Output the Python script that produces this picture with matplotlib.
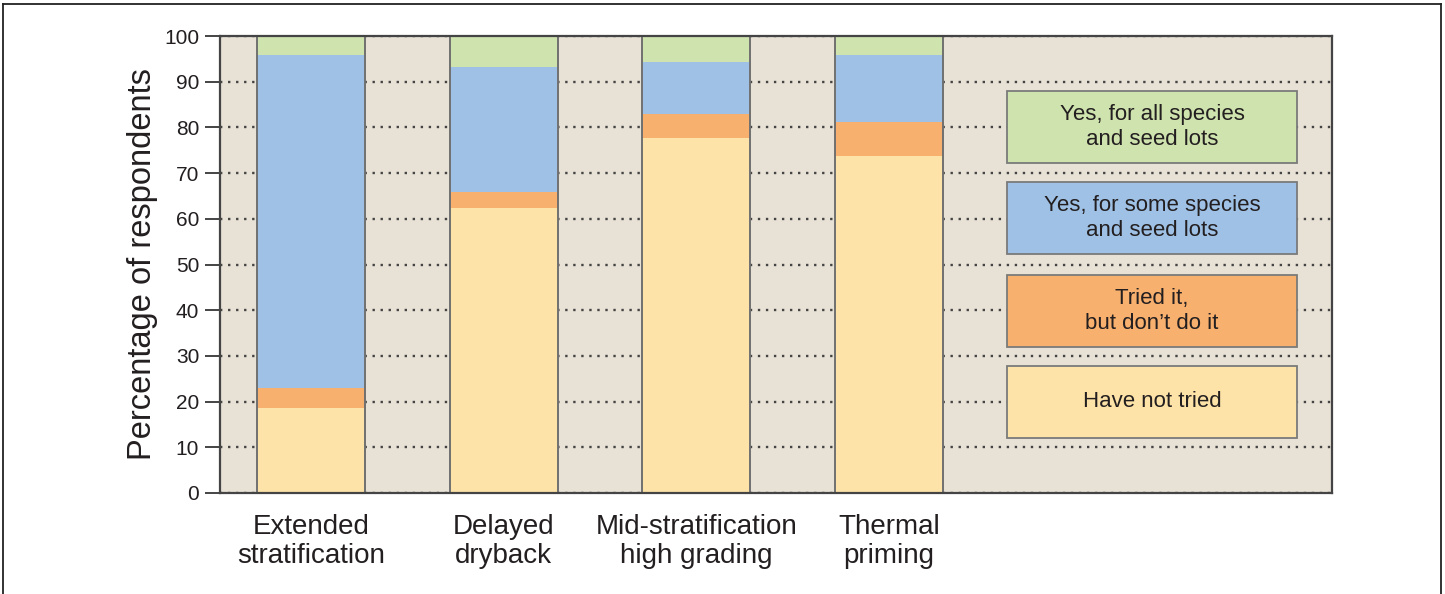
import matplotlib
matplotlib.use("Agg")
import matplotlib.pyplot as plt
from matplotlib.patches import Rectangle
from matplotlib.lines import Line2D
import numpy as np

plt.rcParams['font.family'] = ['Liberation Sans', 'DejaVu Sans']

# Data (percent of respondents)
practices = ["Extended\nstratification", "Delayed\ndryback",
             "Mid-stratification\nhigh grading", "Thermal\npriming"]
have_not_tried = [18.6, 62.4, 77.6, 73.7]
tried_not_do = [4.4, 3.5, 5.3, 7.4]
yes_some = [72.8, 27.4, 11.4, 14.7]
yes_all = [4.2, 6.7, 5.7, 4.2]

series_labels = ["Have not tried", "Tried it,\nbut don\u2019t do it",
                 "Yes, for some species\nand seed lots",
                 "Yes, for all species\nand seed lots"]
series_colors = ["#FDE3A7", "#F8B06E", "#9FC1E5", "#CFE3AE"]

fig = plt.figure(figsize=(14.45, 5.94), dpi=100)
ax = fig.add_axes([220 / 1445, 1 - 493 / 594, (1332 - 220) / 1445, (493 - 36) / 594])
ax.set_facecolor("#E8E1D5")

x = np.arange(len(practices))
width = 0.56

# Dotted grid behind bars
ax.set_yticks(np.arange(0, 101, 10))
ax.yaxis.grid(True, linestyle=(0, (1, 2.4)), color="#444444", linewidth=1.7)
ax.set_axisbelow(True)

series = [have_not_tried, tried_not_do, yes_some, yes_all]
bottom = np.zeros(len(practices))
for vals, col in zip(series, series_colors):
    ax.bar(x, vals, width, bottom=bottom, color=col, edgecolor="none", zorder=2)
    bottom += np.array(vals)

# grey side edges on each bar
for xi in x:
    for edge in (xi - width / 2, xi + width / 2):
        ax.plot([edge, edge], [0, 100], color="#707070", linewidth=1.4, zorder=3)

# legend boxes drawn inside the plot
box_x0, box_x1 = 3.614, 5.117
box_bottoms = [12.1, 32.0, 52.3, 72.2]
box_h = 15.7
for lab, col, yb in zip(series_labels, series_colors, box_bottoms):
    ax.add_patch(Rectangle((box_x0, yb), box_x1 - box_x0, box_h, facecolor=col,
                           edgecolor="#7a7a7a", linewidth=1.3, zorder=4))
    ax.text((box_x0 + box_x1) / 2, yb + box_h / 2, lab, ha="center", va="center",
            fontsize=16, color="#231f20", linespacing=1.25, zorder=5)

ax.set_xlim(-0.473, 5.30)
ax.set_ylim(0, 100)
ax.set_xticks(x)
ax.set_xticklabels(practices, fontsize=20, color="#231f20", linespacing=1.15)
ax.tick_params(axis="x", length=0, pad=15)
ax.tick_params(axis="y", labelsize=15, length=11, width=1.4, color="#444444",
               labelcolor="#231f20", pad=4)
ax.set_ylabel("Percentage of respondents", fontsize=23.5, color="#231f20", labelpad=4)

for s in ax.spines.values():
    s.set_color("#444444")
    s.set_linewidth(1.6)
    s.set_zorder(6)

# outer frame around the figure
for xs, ys in [([3, 3], [0, 590]), ([3, 1441], [590, 590]), ([1441, 1441], [0, 590])]:
    fig.add_artist(Line2D([v / 1445 for v in xs], [v / 594 for v in ys],
                          color="#222222", linewidth=1.3))

fig.savefig("out.png", dpi=100)
